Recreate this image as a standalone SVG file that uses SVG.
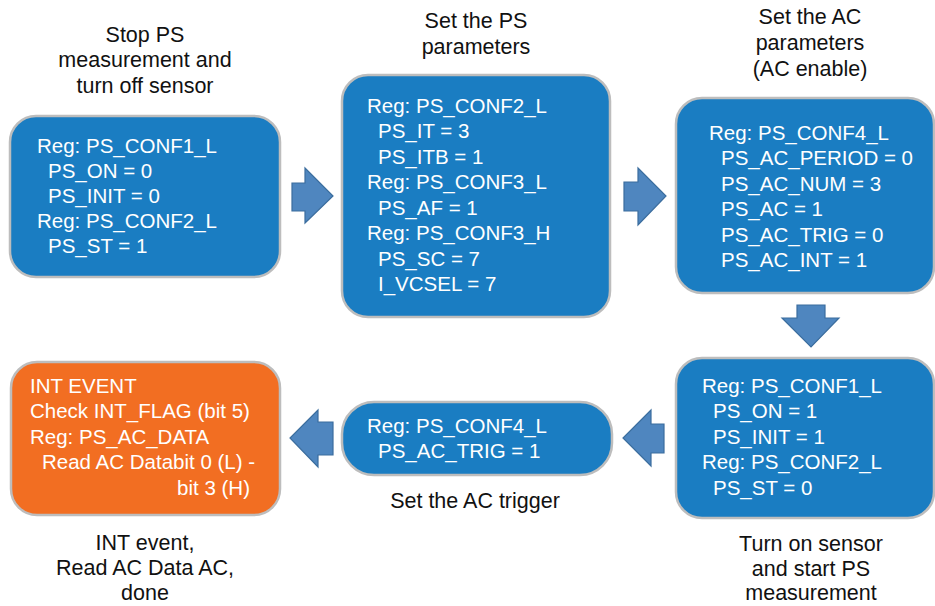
<svg xmlns="http://www.w3.org/2000/svg" width="935" height="606" viewBox="0 0 935 606">
<style>
.box{fill:#1A7DC2;stroke:#BDBDBD;stroke-width:2.5}
.org{fill:#F26E22;stroke:#BDBDBD;stroke-width:2.5}
.bt{font-family:"Liberation Sans",Arial,sans-serif;font-size:20.5px;fill:#FFFFFF}
.tt{font-family:"Liberation Sans",Arial,sans-serif;font-size:21.5px;fill:#111111;text-anchor:middle}
.arr{fill:#4F86BF;stroke:#3B6D9E;stroke-width:1.2}
</style>
<rect width="935" height="606" fill="#FFFFFF"/>
<g id="connectors">
<polygon class="arr" points="292,183 305,183 305,168 333,196 305,223 305,211 292,211"/>
<polygon class="arr" points="624,182 638,182 638,168 666,196 638,225 638,211 624,211"/>
<polygon class="arr" points="797,305 825,305 825,318 839,318 811,347 782,318 797,318"/>
<polygon class="arr" points="664,424 651,424 651,410 623,438 651,466 651,453 664,453"/>
<polygon class="arr" points="333,422 318,422 318,410 290,438 318,467 318,455 333,455"/>
</g>
<g id="node1">
<text class="tt" x="145" y="42">Stop PS</text>
<text class="tt" x="145" y="67">measurement and</text>
<text class="tt" x="145" y="93">turn off sensor</text>
<rect class="box" x="10" y="116" width="270" height="161" rx="26"/>
<text class="bt" x="37" y="153">Reg: PS_CONF1_L</text>
<text class="bt" x="48" y="178">PS_ON = 0</text>
<text class="bt" x="48" y="203">PS_INIT = 0</text>
<text class="bt" x="37" y="228">Reg: PS_CONF2_L</text>
<text class="bt" x="48" y="253">PS_ST = 1</text>
</g>
<g id="node2">
<text class="tt" x="476" y="28">Set the PS</text>
<text class="tt" x="476" y="54">parameters</text>
<rect class="box" x="342" y="75" width="268" height="242" rx="26"/>
<text class="bt" x="367" y="113">Reg: PS_CONF2_L</text>
<text class="bt" x="378" y="138">PS_IT = 3</text>
<text class="bt" x="378" y="164">PS_ITB = 1</text>
<text class="bt" x="367" y="189">Reg: PS_CONF3_L</text>
<text class="bt" x="378" y="215">PS_AF = 1</text>
<text class="bt" x="367" y="240">Reg: PS_CONF3_H</text>
<text class="bt" x="378" y="266">PS_SC = 7</text>
<text class="bt" x="378" y="291">I_VCSEL = 7</text>
</g>
<g id="node3">
<text class="tt" x="810" y="24">Set the AC</text>
<text class="tt" x="810" y="50">parameters</text>
<text class="tt" x="810" y="76">(AC enable)</text>
<rect class="box" x="676" y="98" width="258" height="195" rx="26"/>
<text class="bt" x="709" y="140">Reg: PS_CONF4_L</text>
<text class="bt" x="721" y="165">PS_AC_PERIOD = 0</text>
<text class="bt" x="721" y="191">PS_AC_NUM = 3</text>
<text class="bt" x="721" y="216">PS_AC = 1</text>
<text class="bt" x="721" y="242">PS_AC_TRIG = 0</text>
<text class="bt" x="721" y="267">PS_AC_INT = 1</text>
</g>
<g id="node4">
<rect class="box" x="676" y="358" width="258" height="160" rx="26"/>
<text class="bt" x="702" y="393">Reg: PS_CONF1_L</text>
<text class="bt" x="713" y="418">PS_ON = 1</text>
<text class="bt" x="713" y="444">PS_INIT = 1</text>
<text class="bt" x="702" y="469">Reg: PS_CONF2_L</text>
<text class="bt" x="713" y="495">PS_ST = 0</text>
<text class="tt" x="811" y="551">Turn on sensor</text>
<text class="tt" x="811" y="576">and start PS</text>
<text class="tt" x="811" y="600">measurement</text>
</g>
<g id="node5">
<rect class="box" x="342" y="402" width="270" height="73" rx="32"/>
<text class="bt" x="367" y="433">Reg: PS_CONF4_L</text>
<text class="bt" x="378" y="458">PS_AC_TRIG = 1</text>
<text class="tt" x="475" y="508">Set the AC trigger</text>
</g>
<g id="node6">
<rect class="org" x="11" y="362" width="269" height="153" rx="26"/>
<text class="bt" x="30" y="393">INT EVENT</text>
<text class="bt" x="30" y="418">Check INT_FLAG (bit 5)</text>
<text class="bt" x="30" y="444">Reg: PS_AC_DATA</text>
<text class="bt" x="42" y="469">Read AC Databit 0 (L) -</text>
<text class="bt" x="250" y="495" text-anchor="end">bit 3 (H)</text>
<text class="tt" x="145" y="550">INT event,</text>
<text class="tt" x="145" y="575">Read AC Data AC,</text>
<text class="tt" x="145" y="600">done</text>
</g>
</svg>
